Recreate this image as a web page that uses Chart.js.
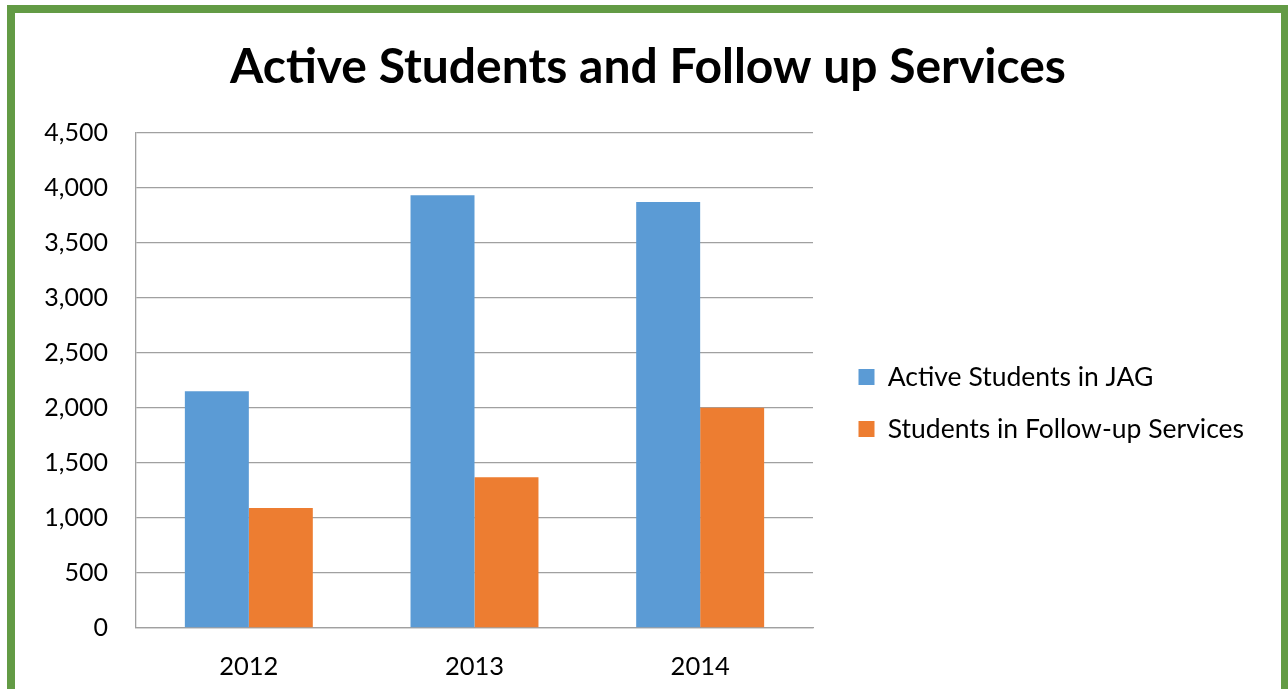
<!DOCTYPE html>
<html>
<head>
<meta charset="utf-8">
<script src="https://cdn.jsdelivr.net/npm/chart.js@4"></script>
<style>
  html,body{margin:0;padding:0;background:#fff;overflow:hidden;}
  #frame{position:absolute;left:7px;top:5px;width:1266px;height:700px;border:8px solid #639b45;overflow:hidden;background:#fff;}
  #wrap{position:absolute;left:0;top:0;width:1266px;height:676px;}
</style>
</head>
<body>
<div id="frame"><div id="wrap"><canvas id="chart"></canvas></div></div>
<script>
// chart data
const years = ['2012', '2013', '2014'];
const activeStudents = [2150, 3930, 3870];
const followUp = [1090, 1370, 2000];
const seriesNames = ['Active Students in JAG', 'Students in Follow-up Services'];
const chartTitle = 'Active Students and Follow up Services';
const yMax = 4500;
const yStep = 500;

const FONT = 'Lato, "Open Sans", sans-serif';
const GRID = '#a0a0a0';

// legend gets a fixed width, then is nudged to where the original puts it
const legendFix = {
  id: 'legendFix',
  beforeInit(chart){
    const lg = chart.legend;
    if(!lg) return;
    const fit = lg.fit;
    lg.fit = function(){ fit.call(this); this.width = 468; };
  },
  afterLayout(chart){
    const lg = chart.legend;
    if(!lg) return;
    lg.left += 20; lg.right += 20;
    lg.top += 52; lg.bottom += 52;
  }
};

new Chart(document.getElementById('chart'), {
  type: 'bar',
  data: {
    labels: years,
    datasets: [
      {label: seriesNames[0], data: activeStudents, backgroundColor: '#5b9bd5'},
      {label: seriesNames[1], data: followUp, backgroundColor: '#ed7d31'}
    ]
  },
  options: {
    responsive: true,
    maintainAspectRatio: false,
    animation: false,
    categoryPercentage: 0.567,
    barPercentage: 1,
    layout: {padding: 0},
    plugins: {
      tooltip: {enabled: false},
      title: {
        display: true,
        text: chartTitle,
        color: '#000',
        font: {family: FONT, size: 48, weight: 'bold'},
        padding: {top: 26, bottom: 36}
      },
      legend: {
        position: 'right',
        align: 'center',
        labels: {
          color: '#000',
          font: {family: FONT, size: 26.5},
          boxWidth: 16,
          boxHeight: 16,
          padding: 25.5
        }
      }
    },
    scales: {
      x: {
        grid: {display: false, drawTicks: false},
        border: {display: true, color: GRID, width: 1.3},
        ticks: {color: '#000', font: {family: FONT, size: 25.5}, padding: 23},
        afterFit(scale){ scale.height = 61; }
      },
      y: {
        min: 0,
        max: yMax,
        grid: {color: GRID, lineWidth: 1.3, drawTicks: false},
        border: {display: true, color: GRID, width: 1.3},
        ticks: {
          stepSize: yStep,
          color: '#000',
          font: {family: FONT, size: 25},
          padding: 28,
          callback: v => v.toLocaleString('en-US')
        },
        afterFit(scale){ scale.width = 121; }
      }
    }
  },
  plugins: [legendFix]
});
</script>
</body>
</html>
